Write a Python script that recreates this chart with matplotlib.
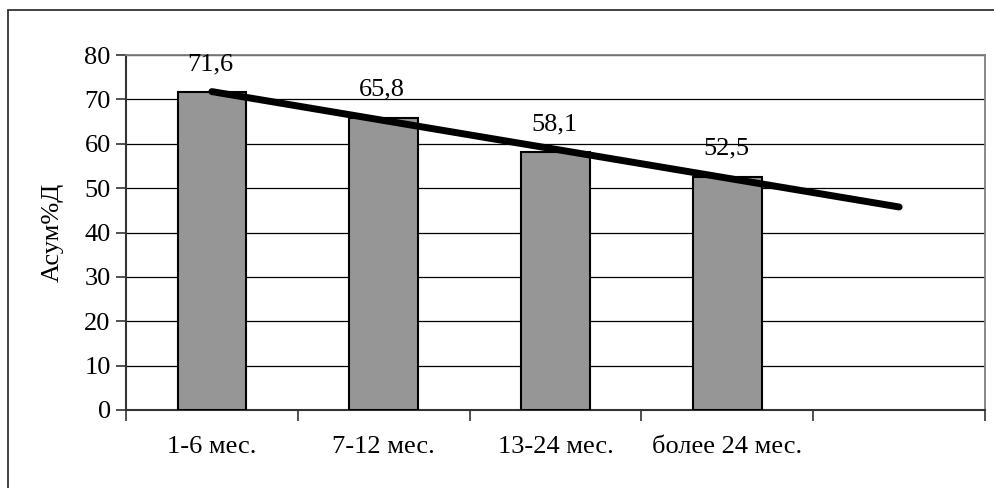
import numpy as np
import matplotlib
matplotlib.use("Agg")
import matplotlib.pyplot as plt
from matplotlib.patches import Rectangle

plt.rcParams['font.family'] = ['Liberation Serif', 'DejaVu Serif']

categories = ['1-6 мес.', '7-12 мес.', '13-24 мес.', 'более 24 мес.']
values = [71.6, 65.8, 58.1, 52.5]
y_label = 'Асум%Д'

fig = plt.figure(figsize=(9.94, 4.88), dpi=100)
ax = fig.add_axes([126/994, 78/488, 859/994, 355/488])

# outer chart frame (runs off the right and bottom edges)
fig.patches.append(Rectangle((8/994, -0.1), 1.2, 1 - 10/488 + 0.1, transform=fig.transFigure,
                             fill=False, edgecolor='#333333', linewidth=1.3, zorder=0))

x = np.arange(len(values)) + 0.5
ax.bar(x, values, width=0.4, color='#969696', edgecolor='black', linewidth=1.5, zorder=3)

for xi, v in zip(x, values):
    ax.annotate(f'{v:.1f}'.replace('.', ','), (xi, v), xytext=(-1, 16), textcoords='offset points',
                ha='center', va='baseline', fontsize=19, zorder=4)

# linear trend, extended one period forward
k, b = np.polyfit(np.arange(1, len(values) + 1), values, 1)
xt = np.array([1, len(values) + 1])
ax.plot(xt - 0.5, k * xt + b, color='black', linewidth=5, solid_capstyle='round', zorder=5)

ax.set_xlim(0, 5)
ax.set_ylim(0, 80)
ax.set_yticks(range(0, 81, 10))
ax.yaxis.grid(True, color='black', linewidth=0.9, zorder=1)
ax.set_axisbelow(True)

ax.set_xticks(range(6))
ax.set_xticklabels([])
ax.set_xticks(x, categories, minor=True)
ax.tick_params(axis='x', which='minor', length=0, pad=19, labelsize=19)
ax.tick_params(axis='x', which='major', length=8, width=1.2, color='#333333')
ax.tick_params(axis='y', length=7, width=1.2, color='#333333', labelsize=19, pad=4)

for s in ['top', 'right']:
    ax.spines[s].set_color('#808080')
    ax.spines[s].set_linewidth(1.3)
for s in ['left', 'bottom']:
    ax.spines[s].set_color('#333333')
    ax.spines[s].set_linewidth(1.5)

ax.set_ylabel(y_label, fontsize=19, labelpad=15)

fig.savefig('out.png', dpi=100)
